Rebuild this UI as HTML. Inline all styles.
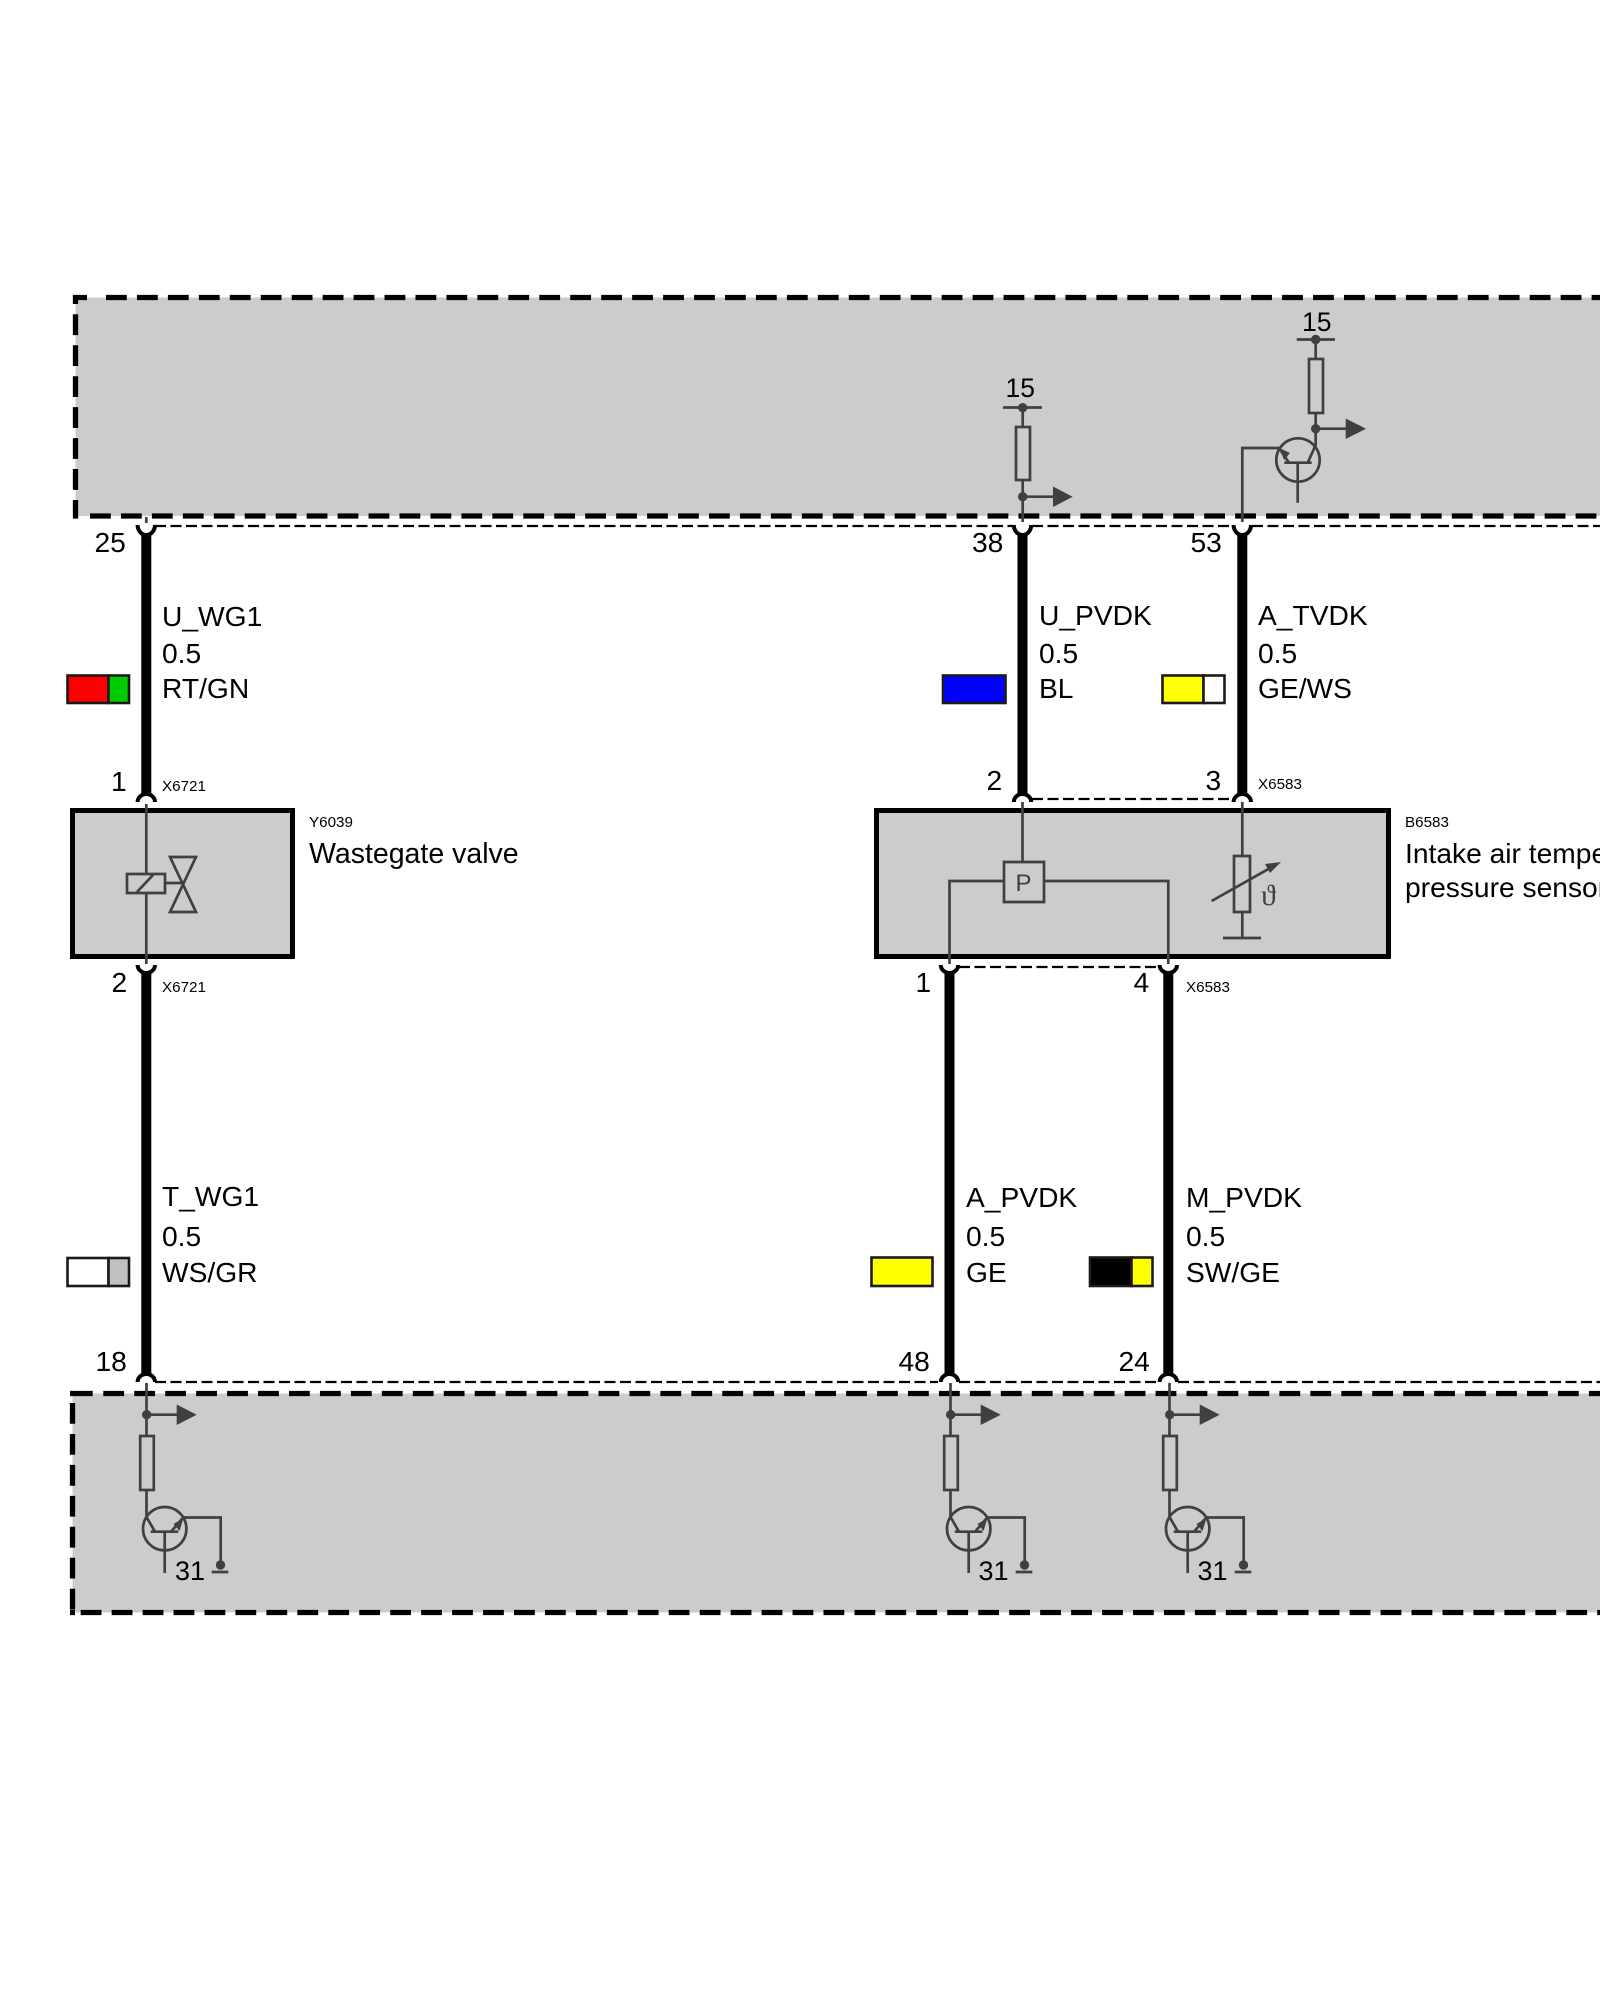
<!DOCTYPE html>
<html><head><meta charset="utf-8"><style>
html,body{margin:0;padding:0;background:#fff;width:1600px;height:2000px;overflow:hidden}
svg{display:block}
text{font-family:"Liberation Sans",sans-serif;font-size:28.2px;fill:#000}
.s{font-size:15.2px}
.n{font-size:26.5px}
.m{font-size:27px}
.v{font-size:28.5px}
.w{stroke:#000;stroke-width:10;fill:none}
.a{stroke:#000;stroke-width:4;fill:none}
.d{stroke:#000;stroke-width:5.3;fill:none;stroke-dasharray:20.8 10.15}
.t{stroke:#404040;stroke-width:2.7;fill:none}
.td{stroke:#000;stroke-width:2.2;fill:none;stroke-dasharray:11 4.5}
.k{stroke:#1a1a1a;stroke-width:2.6}
</style></head><body>
<svg width="1600" height="2000" viewBox="0 0 1600 2000" xmlns="http://www.w3.org/2000/svg">
<defs>
<g id="low">
<path class="t" d="M146.5 1383V1436M146.5 1490V1517L155 1531.7M150.7 1531.7H178.3M164.7 1531.7V1573M171 1531.7L183.3 1517.5H220.7V1565M211.7 1572H228.3"/>
<path class="t" d="M146.5 1414.7H178"/>
<circle cx="146.7" cy="1414.7" r="4.7" fill="#404040"/>
<polygon points="176.7,1404.5 196.7,1414.7 176.7,1425" fill="#404040"/>
<rect class="t" x="140.2" y="1436" width="13.6" height="54"/>
<circle class="t" cx="164.7" cy="1528.7" r="21.7"/>
<polygon points="183.5,1518 173.5,1524 179.5,1531" fill="#404040"/>
<circle cx="220.5" cy="1565" r="4.7" fill="#404040"/>
</g>
</defs>

<!-- top module -->
<rect x="75.5" y="297.5" width="1530" height="218.5" fill="#ccc"/>
<path class="d" style="stroke-dasharray:none" d="M73 297.5H87M75.5 295V304M73 516H78"/>
<path class="d" d="M106 297.5H1610"/>
<path class="d" d="M75.5 314.3V518"/>
<path class="d" d="M90 516H1610"/>

<!-- bottom module -->
<rect x="72.5" y="1393.5" width="1533" height="219" fill="#ccc"/>
<path class="d" style="stroke-dasharray:none" d="M70 1393.5H92.7M70 1612.5H75"/>
<path class="d" d="M103.3 1393.5H1610"/>
<path class="d" d="M72.5 1403V1615"/>
<path class="d" d="M80.7 1612.5H1610"/>

<!-- thin dashed shields -->
<path class="td" d="M155 526H1013M1032 526H1233M1252 526H1605"/>
<path class="td" d="M155 1382H938M959 1382H1157M1178 1382H1605"/>
<path class="td" d="M1032 799H1233"/>
<path class="td" d="M959 967H1159"/>

<!-- thick wires -->
<path class="w" d="M146.3 534V796M146.3 971V1374M1022.5 534V796M1242.3 534V796M949.5 971V1374M1168.3 971V1374"/>

<!-- pin arcs -->
<g class="a">
<path d="M137.6 525A8.7 10 0 0 0 155 525M1013.8 525A8.7 10 0 0 0 1031.2 525M1233.6 525A8.7 10 0 0 0 1251 525"/>
<path d="M137.6 802A8.7 8 0 0 1 155 802M1013.8 802A8.7 8 0 0 1 1031.2 802M1233.6 802A8.7 8 0 0 1 1251 802"/>
<path d="M137.6 965A8.7 8 0 0 0 155 965M940.8 965A8.7 8 0 0 0 958.2 965M1159.6 965A8.7 8 0 0 0 1177 965"/>
<path d="M137.6 1382A8.7 8 0 0 1 155 1382M940.8 1382A8.7 8 0 0 1 958.2 1382M1159.6 1382A8.7 8 0 0 1 1177 1382"/>
</g>

<!-- stubs -->
<path class="t" d="M146.3 517V523"/>

<!-- top circuit: pin 38 -->
<path class="t" d="M1003 407.5H1042M1022.7 407.5V427M1022.7 480V522M1022.7 496.7H1055"/>
<circle cx="1022.7" cy="407.7" r="4.7" fill="#404040"/>
<circle cx="1022.7" cy="496.7" r="4.7" fill="#404040"/>
<rect class="t" x="1016" y="427" width="14" height="53"/>
<polygon points="1053,486.5 1072.7,496.7 1053,507" fill="#404040"/>
<text class="n" x="1005.5" y="397">15</text>

<!-- top circuit: pin 53 -->
<path class="t" d="M1296.7 339.5H1335M1315.7 339.5V359M1315.7 413V445L1307.7 462.7M1315.7 428.7H1347M1284.3 462.7H1311.7M1297.7 462.7V502.7M1289 462.7L1279 448H1242.3V522"/>
<circle cx="1315.7" cy="339.5" r="4.7" fill="#404040"/>
<circle cx="1315.7" cy="428.7" r="4.7" fill="#404040"/>
<rect class="t" x="1309" y="359" width="14" height="54"/>
<polygon points="1345.7,418.5 1366,428.7 1345.7,439" fill="#404040"/>
<circle class="t" cx="1298" cy="460" r="21.7"/>
<polygon points="1279.5,448 1290,453 1284,460" fill="#404040"/>
<text class="n" x="1302" y="331">15</text>

<!-- Y6039 -->
<rect x="72.5" y="810.5" width="220" height="146" fill="#ccc" stroke="#000" stroke-width="5"/>
<path class="t" d="M146.3 804V874M146.3 893V964M127 874H165V893H127ZM137 892L153 875M165 883H183M170 857H196L170 912H196Z"/>

<!-- B6583 -->
<rect x="876.5" y="810.5" width="512" height="146" fill="#ccc" stroke="#000" stroke-width="5"/>
<path class="t" d="M1022.5 802V862M1004 862H1044V902H1004ZM949.5 964V881H1004M1044 881H1168.3V964M1242.3 802V856M1234 856H1250V912H1234ZM1242.3 912V938M1223 938H1261M1211.6 901L1272 867"/>
<polygon points="1281,862 1270,873 1265,864" fill="#404040"/>
<text x="1015.5" y="891" style="font-size:24px;fill:#404040">P</text>
<text x="1261" y="905" style="font-family:'Liberation Serif','DejaVu Serif',serif;font-size:30px;fill:#404040">ϑ</text>

<!-- bottom circuits -->
<use href="#low"/>
<use href="#low" transform="translate(804 0)"/>
<use href="#low" transform="translate(1023 0)"/>
<text class="m" x="175" y="1580">31</text>
<text class="m" x="978.5" y="1580">31</text>
<text class="m" x="1197.5" y="1580">31</text>

<!-- pin numbers -->
<text x="94.5" y="552">25</text>
<text x="972" y="552">38</text>
<text x="1190.5" y="552">53</text>
<text x="111" y="791">1</text>
<text x="111.5" y="992">2</text>
<text x="986.5" y="790">2</text>
<text x="1205.5" y="790">3</text>
<text x="915.5" y="992">1</text>
<text x="1133.5" y="992">4</text>
<text x="95.5" y="1371">18</text>
<text x="898.5" y="1371">48</text>
<text x="1118.5" y="1371">24</text>

<!-- connector ids -->
<text class="s" x="162" y="791">X6721</text>
<text class="s" x="162" y="992">X6721</text>
<text class="s" x="1258" y="789">X6583</text>
<text class="s" x="1186" y="992">X6583</text>
<text class="s" x="309" y="827">Y6039</text>
<text class="s" x="1405" y="827">B6583</text>
<text class="v" x="309" y="863">Wastegate valve</text>
<text x="1405" y="863">Intake air temperature and</text>
<text x="1405" y="897">pressure sensor</text>

<!-- wire labels -->
<text x="162" y="626">U_WG1</text><text x="162" y="663">0.5</text><text x="162" y="698">RT/GN</text>
<text x="1039" y="625">U_PVDK</text><text x="1039" y="663">0.5</text><text x="1039" y="698">BL</text>
<text x="1258" y="625">A_TVDK</text><text x="1258" y="663">0.5</text><text x="1258" y="698">GE/WS</text>
<text x="162" y="1206">T_WG1</text><text x="162" y="1246">0.5</text><text x="162" y="1282">WS/GR</text>
<text x="966" y="1207">A_PVDK</text><text x="966" y="1246">0.5</text><text x="966" y="1282">GE</text>
<text x="1186" y="1207">M_PVDK</text><text x="1186" y="1246">0.5</text><text x="1186" y="1282">SW/GE</text>

<!-- colour swatches -->
<rect class="k" x="67.5" y="675.5" width="41" height="27.5" fill="#f00"/><rect class="k" x="108.5" y="675.5" width="20.5" height="27.5" fill="#0c0"/>
<rect class="k" x="943" y="675.5" width="62.5" height="27.5" fill="#00f"/>
<rect class="k" x="1162.5" y="675.5" width="41" height="27.5" fill="#ff0"/><rect class="k" x="1203.5" y="675.5" width="21" height="27.5" fill="#fff"/>
<rect class="k" x="67.5" y="1258" width="41" height="28" fill="#fff"/><rect class="k" x="108.5" y="1258" width="20.5" height="28" fill="#c0c0c0"/>
<rect class="k" x="871.5" y="1257.5" width="61" height="28.5" fill="#ff0"/>
<rect class="k" x="1090" y="1257.5" width="41.5" height="28.5" fill="#000"/><rect class="k" x="1131.5" y="1257.5" width="21" height="28.5" fill="#ff0"/>
</svg>
</body></html>
